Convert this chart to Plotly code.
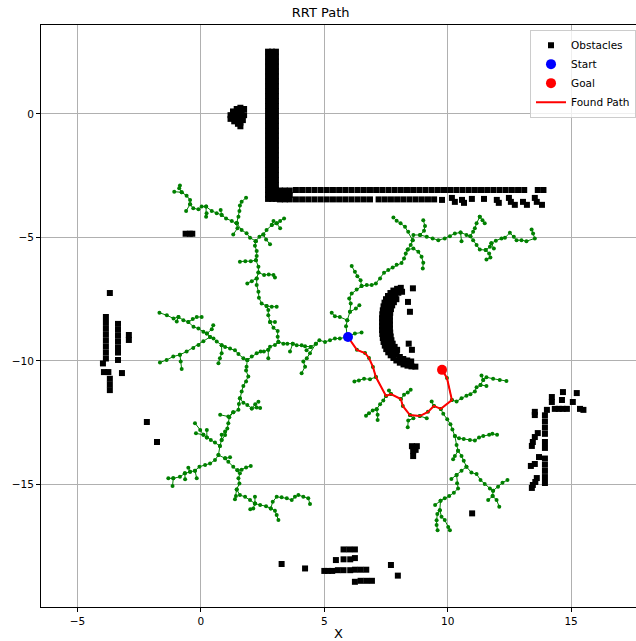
import plotly.graph_objects as go

# ---------------- data ----------------
start_pt = (5.96, -9.03)
goal_pt = (9.77, -10.36)

path_x = [5.96, 6.32, 6.65, 6.81, 6.97, 7.09, 7.50, 7.70, 8.10, 8.18, 8.47, 8.87, 9.20, 9.44, 9.72, 10.17, 9.97, 9.77]
path_y = [-9.03, -9.55, -9.68, -9.88, -10.24, -10.65, -11.42, -11.34, -11.54, -11.82, -12.19, -12.23, -12.06, -11.82, -11.94, -11.58, -10.69, -10.36]

# obstacles (scan points)
wall_col_x = [2.72, 2.88, 3.04]
wall_y = [2.52, 2.32, 2.12, 1.92, 1.72, 1.52, 1.32, 1.12, 0.92, 0.72, 0.52, 0.32, 0.12, -0.08,
          -0.28, -0.48, -0.68, -0.88, -1.08, -1.28, -1.48, -1.68, -1.88, -2.08, -2.28, -2.48,
          -2.68, -2.88, -3.08, -3.28, -3.44]
corner_x = [3.20, 3.40, 3.60, 3.20, 3.40, 3.60, 3.20, 3.40, 3.60]
corner_y = [-3.10, -3.10, -3.10, -3.28, -3.28, -3.28, -3.46, -3.46, -3.46]
top_row_y = -3.08
top_row_x = [3.85, 4.10, 4.35, 4.60, 4.85, 5.10, 5.35, 5.60, 5.85, 6.10, 6.35, 6.60, 6.85, 7.10,
             7.35, 7.60, 7.85, 8.10, 8.35, 8.60, 8.85, 9.10, 9.35, 9.60, 9.85, 10.10, 10.35,
             10.60, 10.85, 11.10, 11.35, 11.60, 11.85, 12.10, 12.35, 12.60, 12.85, 13.10, 13.65, 13.88]
low_row_y = -3.46
low_row_x = [3.85, 4.10, 4.35, 4.60, 4.85, 5.10, 5.35, 5.60, 5.85, 6.10, 6.35, 6.60, 6.85, 7.20,
             7.45, 7.70, 7.95, 8.20, 8.45, 8.70, 8.95, 9.20, 9.45]
stagger_x = [9.77, 10.17, 10.29, 10.58, 10.66, 10.98, 11.47, 11.99, 12.07, 12.48, 12.56, 12.72,
             13.05, 13.21, 13.53, 13.61, 13.82]
stagger_y = [-3.48, -3.40, -3.56, -3.48, -3.60, -3.44, -3.44, -3.48, -3.60, -3.40, -3.56, -3.68,
             -3.56, -3.68, -3.40, -3.56, -3.68]
blob_x = [1.20, 1.20, 1.30, 1.35, 1.35, 1.45, 1.50, 1.50, 1.50, 1.60, 1.65, 1.65, 1.60, 1.60, 1.75, 1.75, 1.70]
blob_y = [-0.05, -0.20, 0.10, -0.10, -0.30, 0.20, 0.00, -0.20, -0.40, 0.25, 0.05, -0.15, -0.35, -0.50, 0.20, -0.05, -0.25]
# C-shaped obstacle: outer, middle and inner scan arcs, then loose points
c_x = [8.10, 7.95, 7.80, 7.68, 7.58, 7.50, 7.44, 7.40, 7.37, 7.35, 7.34, 7.34, 7.34, 7.34, 7.35, 7.37,
       7.40, 7.45, 7.51, 7.59, 7.69, 7.80, 7.92, 8.06, 8.21, 8.37, 8.53, 8.69,
       8.15, 8.00, 7.87, 7.76, 7.67, 7.60, 7.55, 7.52, 7.51, 7.50, 7.50, 7.50, 7.50, 7.51, 7.53,
       7.57, 7.63, 7.71, 7.81, 7.93, 8.06, 8.20, 8.36, 8.52,
       7.92, 7.82, 7.75, 7.70, 7.67, 7.66, 7.66, 7.66, 7.66, 7.67, 7.69, 7.72, 7.77, 7.85, 7.95,
       8.59, 8.39, 8.47, 8.42, 8.55]
c_y = [-7.04, -7.08, -7.15, -7.25, -7.37, -7.50, -7.64, -7.79, -7.95, -8.11, -8.27, -8.43, -8.59, -8.75,
       -8.91, -9.07, -9.23, -9.38, -9.52, -9.65, -9.77, -9.88, -9.98, -10.07, -10.14, -10.19, -10.22, -10.23,
       -7.20, -7.24, -7.32, -7.42, -7.54, -7.68, -7.83, -7.98, -8.14, -8.30, -8.46, -8.62, -8.78, -8.94,
       -9.10, -9.25, -9.39, -9.52, -9.64, -9.75, -9.84, -9.92, -9.98, -10.02,
       -7.50, -7.62, -7.75, -7.90, -8.05, -8.21, -8.37, -8.53, -8.69, -8.85, -9.01, -9.16, -9.30, -9.43, -9.55,
       -7.06, -7.61, -8.01, -9.30, -9.55]
right_x = [14.67, 14.63, 14.22, 14.22, 15.23, 15.07, 14.34, 14.50, 14.66, 14.83, 15.36, 15.50, 13.53, 13.53,
           14.02, 13.94, 13.94, 13.94, 13.94, 13.65, 13.53, 13.45, 13.41, 13.94, 13.94, 13.70, 13.94, 13.94,
           13.94, 13.94, 13.94, 13.37, 13.53, 13.61, 13.55, 13.41, 13.45, 10.99]
right_y = [-11.26, -11.58, -11.46, -11.66, -11.30, -11.66, -11.94, -11.94, -11.94, -11.94, -11.94, -11.98, -12.06, -12.19,
           -11.98, -12.20, -12.45, -12.70, -12.95, -12.92, -13.08, -13.28, -13.44, -13.28, -13.52, -13.89, -13.95, -14.20,
           -14.45, -14.70, -14.94, -14.25, -14.17, -14.74, -14.90, -15.14, -15.02, -16.17]
bottom_x = [3.27, 4.22, 5.78, 6.01, 6.24, 5.47, 5.78, 6.05, 6.24, 5.00, 5.15, 5.32, 5.55, 5.78, 6.05, 6.24,
            6.47, 6.70, 7.70, 7.98, 6.24, 6.47, 6.70, 6.93]
bottom_y = [-18.22, -18.40, -17.63, -17.63, -17.63, -18.06, -18.03, -18.03, -17.98, -18.50, -18.50, -18.50,
            -18.47, -18.47, -18.47, -18.45, -18.45, -18.45, -18.26, -18.69, -18.94, -18.90, -18.90, -18.90]
left_x = [-3.69, -3.85, -3.85, -3.85, -3.85, -3.85, -3.85, -3.85, -3.85, -3.97, -3.93, -3.75, -3.69, -3.69, -3.69,
          -3.36, -3.36, -3.36, -3.36, -3.36, -3.36, -3.36, -2.92, -2.92, -3.20, -2.19, -1.78]
left_y = [-7.25, -8.22, -8.46, -8.70, -8.94, -9.18, -9.42, -9.66, -9.90, -10.10, -10.45, -10.45, -10.72, -10.95, -11.18,
          -8.50, -8.74, -8.98, -9.22, -9.46, -9.66, -9.96, -8.95, -9.15, -10.49, -12.47, -13.28]
misc_x = [-0.62, -0.45, -0.35, 8.55, 8.75, 8.60, 8.60, 8.70]
misc_y = [-4.85, -4.85, -4.85, -13.45, -13.45, -13.65, -13.85, -13.60]

# RRT tree branches (node chains)
tree_branches = [
    [(5.93, -9.03), (5.88, -8.59), (5.93, -8.35), (6.04, -8.01), (6.07, -7.67), (6.01, -7.47), (6.11, -7.27),
     (6.31, -7.11), (6.51, -6.97), (6.72, -6.93), (6.92, -6.93), (7.09, -6.86), (7.26, -6.66), (7.42, -6.43),
     (7.59, -6.32), (7.77, -6.22), (7.93, -6.11), (8.13, -6.03), (8.23, -5.85), (8.30, -5.65), (8.38, -5.49),
     (8.50, -5.31), (8.58, -5.11), (8.61, -4.90), (8.88, -4.90), (9.15, -4.97), (9.39, -5.04), (9.62, -5.11),
     (9.88, -5.04), (10.09, -4.95), (10.29, -4.84), (10.52, -4.80), (10.76, -4.90), (10.92, -4.95), (11.03, -5.11),
     (11.17, -5.31), (11.30, -5.49), (11.54, -5.51), (11.71, -5.38), (11.77, -5.24), (11.95, -5.13), (12.18, -5.04),
     (12.32, -5.01), (12.52, -4.81), (12.68, -4.97), (12.79, -5.11), (12.99, -5.11), (13.19, -5.15), (13.53, -5.04),
     (13.46, -4.84), (13.40, -4.68)],
    [(5.93, -8.35), (5.63, -8.22), (5.43, -8.19), (5.30, -8.05)],
    [(6.04, -8.01), (6.28, -7.88), (6.42, -7.74)],
    [(6.51, -6.97), (6.47, -6.73), (6.34, -6.57), (6.24, -6.39), (6.11, -6.16)],
    [(8.38, -5.49), (8.61, -5.45), (8.81, -5.58), (8.94, -5.78), (9.01, -6.02), (8.99, -6.26)],
    [(8.58, -5.11), (8.40, -4.77), (8.27, -4.57), (8.09, -4.43), (7.93, -4.32), (7.80, -4.19)],
    [(8.88, -4.90), (9.04, -4.73), (9.08, -4.54), (9.01, -4.30)],
    [(5.93, -9.03), (6.24, -8.89), (6.51, -8.85)],
    [(10.52, -4.80), (10.56, -5.15)],
    [(10.92, -4.95), (11.03, -4.77), (11.10, -4.63), (11.17, -4.43), (11.30, -4.16)],
    [(11.30, -4.16), (11.41, -4.30), (11.50, -4.43)],
    [(11.54, -5.51), (11.68, -5.65), (11.73, -5.81), (11.57, -5.89)],
    [(11.77, -5.24), (11.87, -5.45)],
    # along / off the found path
    [(7.09, -10.65), (6.85, -10.74), (6.61, -10.72), (6.40, -10.79), (6.22, -10.83)],
    [(7.50, -11.42), (7.39, -11.60), (7.26, -11.75), (7.12, -11.95), (6.96, -12.01), (6.81, -12.12), (6.69, -12.22)],
    [(7.12, -11.95), (7.16, -12.18), (7.16, -12.39)],
    [(8.10, -11.54), (8.23, -11.37), (8.38, -11.28), (8.50, -11.17)],
    [(7.70, -11.34), (7.62, -11.20)],
    [(8.47, -12.19), (8.61, -12.32), (8.40, -12.41), (8.38, -12.68)],
    [(8.87, -12.23), (9.15, -12.32)],
    [(9.44, -11.82), (9.35, -11.64)],
    [(10.17, -11.58), (10.36, -11.64), (10.56, -11.51), (10.76, -11.41), (10.92, -11.35), (11.10, -11.24),
     (11.17, -11.06), (11.33, -10.97), (11.44, -10.77), (11.37, -10.59)],
    [(11.44, -10.77), (11.57, -10.66), (11.84, -10.72), (12.11, -10.77), (12.38, -10.81)],
    [(11.33, -10.97), (11.57, -11.01)],
    [(9.72, -11.94), (9.82, -12.14), (9.98, -12.36), (10.11, -12.56), (10.19, -12.77), (10.29, -13.04), (10.36, -13.40),
     (10.42, -13.63), (10.56, -13.85), (10.65, -14.04), (10.76, -14.28), (10.96, -14.52), (11.17, -14.58),
     (11.33, -14.82), (11.50, -14.98), (11.71, -15.16), (11.84, -15.25), (12.04, -15.09), (12.22, -14.93), (12.42, -14.82)],
    [(10.29, -13.04), (10.46, -13.13), (10.65, -13.16), (10.90, -13.20), (11.10, -13.22), (11.27, -13.10),
     (11.44, -13.04), (11.68, -12.99), (11.81, -12.95), (12.00, -12.99)],
    [(10.42, -13.63), (10.29, -13.85), (10.22, -13.98)],
    [(10.76, -14.28), (10.56, -14.44), (10.36, -14.62), (10.15, -14.78)],
    [(10.36, -14.62), (10.38, -14.95), (10.42, -15.16), (10.25, -15.33), (10.06, -15.47), (9.88, -15.56), (9.71, -15.66),
     (9.68, -16.04), (9.58, -16.20), (9.55, -16.45), (9.55, -16.64), (9.59, -16.85)],
    [(9.71, -15.66), (9.49, -15.83)],
    [(9.68, -16.04), (9.75, -16.31), (9.88, -16.44), (10.02, -16.72), (10.09, -16.85)],
    [(11.84, -15.25), (11.82, -15.47), (11.64, -15.63)],
    [(11.82, -15.47), (11.98, -15.63), (12.09, -15.90)],
    # left part of the tree
    [(5.93, -9.03), (5.63, -9.09), (5.43, -9.09), (5.23, -9.16), (5.03, -9.23), (4.80, -9.16), (4.66, -9.30),
     (4.45, -9.43), (4.22, -9.40), (4.08, -9.36), (3.88, -9.36), (3.72, -9.30), (3.50, -9.30), (3.34, -9.30), (3.14, -9.23)],
    [(4.66, -9.30), (4.42, -9.69), (4.29, -9.89), (4.15, -10.02), (4.22, -10.23), (4.08, -10.50)],
    [(4.45, -9.43), (4.28, -9.57)],
    [(3.72, -9.30), (3.61, -9.62)],
    [(3.14, -9.23), (3.11, -9.02), (3.11, -8.79), (2.94, -8.66), (2.80, -8.42), (2.73, -8.15), (2.73, -7.94),
     (2.66, -7.78), (2.46, -7.67), (2.35, -7.44), (2.33, -7.20), (2.26, -6.93), (2.26, -6.66), (2.33, -6.42),
     (2.33, -6.19), (2.23, -5.92), (2.26, -5.75), (2.26, -5.55), (2.19, -5.34), (2.22, -5.15)],
    [(2.23, -5.92), (2.02, -5.96), (1.80, -5.96), (1.58, -5.98)],
    [(2.33, -6.42), (2.56, -6.52), (2.75, -6.50), (2.94, -6.52), (3.00, -6.62)],
    [(2.26, -6.66), (2.06, -6.77), (1.88, -6.86)],
    [(2.66, -7.78), (2.87, -7.81), (3.07, -7.81)],
    [(2.80, -8.42), (3.00, -8.42)],
    [(2.22, -5.15), (2.37, -4.97), (2.53, -4.88), (2.66, -4.70), (2.87, -4.50), (3.07, -4.43), (3.21, -4.33), (3.37, -4.23)],
    [(2.87, -4.50), (2.94, -4.33)],
    [(3.07, -4.43), (3.21, -4.63)],
    [(2.53, -4.88), (2.64, -5.08), (2.80, -5.28)],
    [(2.22, -5.15), (1.99, -5.01), (1.85, -4.83), (1.65, -4.70), (1.45, -4.43)],
    [(1.45, -4.43), (1.48, -4.63), (1.31, -4.88)],
    [(1.45, -4.43), (1.52, -4.16), (1.56, -3.93), (1.58, -3.71), (1.65, -3.55), (1.83, -3.39)],
    [(1.45, -4.43), (1.25, -4.33), (1.02, -4.23), (0.84, -4.09), (0.64, -4.02), (0.44, -3.93), (0.21, -3.75),
     (0.03, -3.75), (-0.10, -3.86), (-0.31, -3.82), (-0.44, -3.66), (-0.44, -3.48), (-0.58, -3.31), (-0.78, -3.17),
     (-0.88, -3.01), (-0.85, -2.90)],
    [(0.21, -3.75), (0.23, -4.02), (0.21, -4.16)],
    [(-0.44, -3.66), (-0.60, -3.93)],
    [(-0.78, -3.17), (-1.08, -3.15)],
    [(0.84, -4.09), (0.80, -3.89)],
    [(3.14, -9.23), (3.00, -9.35), (2.80, -9.42), (2.73, -9.55), (2.55, -9.62), (2.42, -9.62), (2.26, -9.69), (2.06, -9.82), (1.88, -9.96)],
    [(2.73, -9.55), (2.73, -9.89)],
    [(1.88, -9.96), (1.72, -9.89), (1.52, -9.72), (1.38, -9.57), (1.18, -9.50), (0.98, -9.43), (0.84, -9.36),
     (0.64, -9.21), (0.51, -9.09), (0.37, -9.03), (0.24, -8.89), (0.10, -8.82), (-0.10, -8.69), (-0.30, -8.62),
     (-0.51, -8.42), (-0.71, -8.35), (-0.91, -8.22), (-1.11, -8.28), (-1.38, -8.15), (-1.68, -8.05)],
    [(0.24, -8.89), (0.44, -8.72), (0.50, -8.55)],
    [(-0.51, -8.42), (-0.33, -8.30), (-0.17, -8.22), (0.03, -8.22)],
    [(0.84, -9.36), (0.84, -9.69), (0.77, -9.89), (0.71, -10.09)],
    [(0.37, -9.03), (0.10, -9.20), (-0.10, -9.35), (-0.31, -9.48), (-0.58, -9.62), (-0.85, -9.75), (-1.12, -9.82),
     (-1.39, -9.96), (-1.66, -10.06)],
    [(-0.85, -9.75), (-0.82, -10.02), (-0.78, -10.33)],
    [(-0.91, -8.22), (-0.98, -8.40)],
    [(1.88, -9.96), (1.85, -10.23), (1.83, -10.39), (1.92, -10.63), (1.83, -10.83), (1.72, -11.01), (1.65, -11.24),
     (1.58, -11.51), (1.54, -11.74), (1.52, -11.98), (1.31, -12.08), (1.15, -12.28), (1.11, -12.52), (1.07, -12.73),
     (0.98, -13.00), (0.84, -13.20), (0.77, -13.44), (0.71, -13.81), (0.57, -14.01), (0.37, -14.15), (0.17, -14.21),
     (-0.06, -14.28), (-0.24, -14.44), (-0.44, -14.48), (-0.65, -14.55), (-0.85, -14.69), (-1.12, -14.75), (-1.32, -14.75)],
    [(1.58, -11.51), (1.72, -11.69), (1.88, -11.78), (2.06, -11.92), (2.26, -11.88), (2.40, -11.90)],
    [(2.06, -11.92), (2.20, -11.75), (2.33, -11.65)],
    [(1.31, -12.08), (1.11, -12.25), (0.78, -12.18)],
    [(0.77, -13.44), (0.57, -13.30), (0.40, -13.20), (0.24, -13.10), (0.10, -12.99), (-0.03, -12.79), (-0.24, -12.52)],
    [(0.10, -12.99), (-0.20, -12.93)],
    [(0.24, -13.10), (0.24, -12.79)],
    [(0.84, -13.20), (0.84, -12.99), (0.98, -12.86)],
    [(-1.12, -14.75), (-1.15, -15.06)],
    [(-0.65, -14.55), (-0.64, -14.79)],
    [(-0.24, -14.44), (-0.17, -14.75)],
    [(-0.44, -14.48), (-0.51, -14.32)],
    [(0.71, -13.81), (0.98, -13.94), (1.11, -14.08), (1.31, -14.28), (1.48, -14.42), (1.58, -14.55), (1.52, -14.75),
     (1.56, -14.96), (1.45, -15.20), (1.42, -15.47), (1.38, -15.60)],
    [(0.98, -13.94), (1.18, -13.90)],
    [(1.48, -14.42), (1.65, -14.40), (1.83, -14.31), (2.02, -14.25)],
    [(1.45, -15.20), (1.58, -15.43), (1.79, -15.50), (1.99, -15.63), (2.19, -15.77), (2.40, -15.83), (2.64, -15.88),
     (2.83, -15.97), (3.00, -16.06), (3.07, -16.24), (3.14, -16.44)],
    [(2.19, -15.77), (2.19, -15.50)],
    [(2.19, -15.77), (2.12, -15.97), (2.00, -16.00)],
    [(2.83, -15.97), (2.91, -15.70), (3.07, -15.50), (3.27, -15.52), (3.48, -15.56), (3.68, -15.63), (3.81, -15.50),
     (3.95, -15.43), (4.15, -15.50), (4.35, -15.56), (4.42, -15.79)],
]

# ---------------- figure ----------------
obs_x, obs_y = [], []
for cx in wall_col_x:
    obs_x += [cx] * len(wall_y)
    obs_y += wall_y
obs_x += corner_x; obs_y += corner_y
obs_x += top_row_x; obs_y += [top_row_y] * len(top_row_x)
obs_x += low_row_x; obs_y += [low_row_y] * len(low_row_x)
for gx, gy in [(stagger_x, stagger_y), (blob_x, blob_y), (c_x, c_y), (right_x, right_y),
               (bottom_x, bottom_y), (left_x, left_y), (misc_x, misc_y)]:
    obs_x += gx; obs_y += gy

tx, ty = [], []
for br in tree_branches + [list(zip(path_x, path_y))]:
    for x, y in br:
        tx.append(x); ty.append(y)
    tx.append(None); ty.append(None)

fig = go.Figure()
fig.add_trace(go.Scatter(x=tx, y=ty, mode='lines+markers', line=dict(color='green', width=1),
                         marker=dict(color='green', size=4), showlegend=False, hoverinfo='skip'))
fig.add_trace(go.Scatter(x=obs_x, y=obs_y, mode='markers', name='Obstacles', legendrank=1,
                         marker=dict(symbol='square', color='black', size=6)))
fig.add_trace(go.Scatter(x=path_x, y=path_y, mode='lines', name='Found Path', legendrank=4,
                         line=dict(color='red', width=2)))
fig.add_trace(go.Scatter(x=[start_pt[0]], y=[start_pt[1]], mode='markers', name='Start', legendrank=2,
                         marker=dict(color='blue', size=10)))
fig.add_trace(go.Scatter(x=[goal_pt[0]], y=[goal_pt[1]], mode='markers', name='Goal', legendrank=3,
                         marker=dict(color='red', size=10)))

axis_common = dict(showgrid=True, gridcolor='#b0b0b0', gridwidth=0.8, zeroline=False,
                   showline=True, linecolor='black', linewidth=1, mirror=True,
                   ticks='outside', ticklen=4, tickcolor='black', tickwidth=1, automargin=False)
fig.update_xaxes(range=[-6.48, 17.63], tickvals=[-5, 0, 5, 10, 15],
                 title=dict(text='X', standoff=3), **axis_common)
fig.update_yaxes(range=[-19.96, 3.60], tickvals=[0, -5, -10, -15], **axis_common)

fig.update_layout(
    width=636, height=641,
    margin=dict(l=41, r=0, t=25, b=34),
    paper_bgcolor='white', plot_bgcolor='white',
    font=dict(family='DejaVu Sans', size=10.5, color='black'),
    title=dict(text='RRT Path', x=0.47, xanchor='center', xref='paper',
               y=1 - 12 / 641, yanchor='middle', yref='container', font=dict(size=13)),
    legend=dict(x=1, xanchor='right', y=0.992, yanchor='top', bgcolor='rgba(255,255,255,0.8)',
                bordercolor='#cccccc', borderwidth=1, font=dict(size=10.5), tracegroupgap=0),
)

fig.write_html('out.html', config={'displayModeBar': False},
               post_script="document.body.style.margin='0px';document.body.style.padding='0px';")
